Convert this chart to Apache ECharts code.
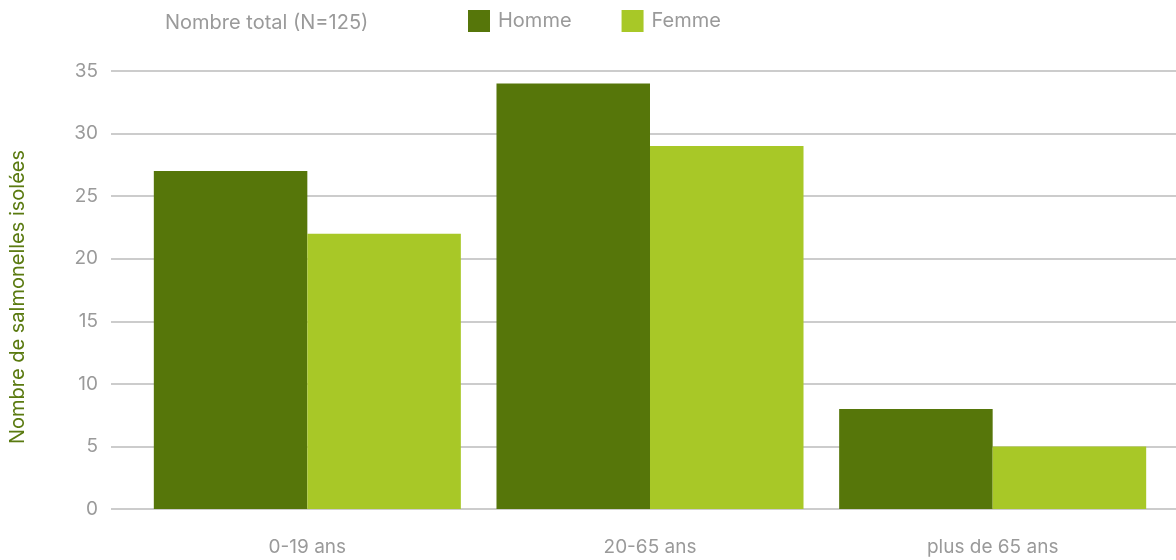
<!DOCTYPE html>
<html><head><meta charset="utf-8">
<script src="https://cdn.jsdelivr.net/npm/echarts@6/dist/echarts.min.js"></script>
<style>html,body{margin:0;padding:0;background:#fff}#c{width:1176px;height:560px}</style>
</head><body><div id="c"></div>
<script>
const categories = ['0-19 ans', '20-65 ans', 'plus de 65 ans'];
const homme = [27, 34, 8];
const femme = [22, 29, 5];
const seriesNames = ['Homme', 'Femme'];
const titleText = 'Nombre total (N=125)';
const yName = 'Nombre de salmonelles isolées';

const font = 'Inter, "Noto Sans", sans-serif';
const chart = echarts.init(document.getElementById('c'));
chart.setOption({
  animation: false,
  textStyle: { fontFamily: font },
  title: { text: titleText, left: 160, top: 8, textStyle: { fontFamily: font, fontSize: 20, fontWeight: 'normal', color: '#9a9a9a' } },
  legend: {
    data: seriesNames, left: 463, top: 5, itemWidth: 22, itemHeight: 22, itemGap: 50,
    icon: 'rect', textStyle: { fontFamily: font, fontSize: 20, color: '#9a9a9a', padding: [0, 0, 0, 3] }
  },
  grid: [
    { left: 110, right: 0, top: 71, bottom: 51, containLabel: false },
    { left: 136, right: 12, top: 71, bottom: 51, containLabel: false }
  ],
  xAxis: [
    { type: 'category', gridIndex: 0, data: categories, show: false },
    { type: 'category', gridIndex: 1, data: categories,
      axisLine: { show: false }, axisTick: { show: false },
      axisLabel: { margin: 29, fontSize: 19, color: '#9a9a9a', fontFamily: font } }
  ],
  yAxis: [
    { type: 'value', gridIndex: 0, min: 0, max: 35, interval: 5,
      name: yName, nameLocation: 'middle', nameGap: 83, nameRotate: 90,
      nameTextStyle: { fontSize: 20, color: '#5a7a10', fontFamily: font, padding: [0, 14, 0, 0] },
      axisLine: { show: false }, axisTick: { show: false },
      axisLabel: { margin: 13, fontSize: 19, color: '#9a9a9a', fontFamily: font },
      splitLine: { lineStyle: { color: '#cccccc', width: 2 } } },
    { type: 'value', gridIndex: 1, min: 0, max: 35, interval: 5, show: false, splitLine: { show: false } }
  ],
  series: [
    { name: seriesNames[0], type: 'bar', xAxisIndex: 1, yAxisIndex: 1, data: homme,
      itemStyle: { color: '#56760a' }, barGap: '0%', barCategoryGap: '10.4%' },
    { name: seriesNames[1], type: 'bar', xAxisIndex: 1, yAxisIndex: 1, data: femme,
      itemStyle: { color: '#a8c827' }, barGap: '0%', barCategoryGap: '10.4%' }
  ]
});
</script></body></html>
